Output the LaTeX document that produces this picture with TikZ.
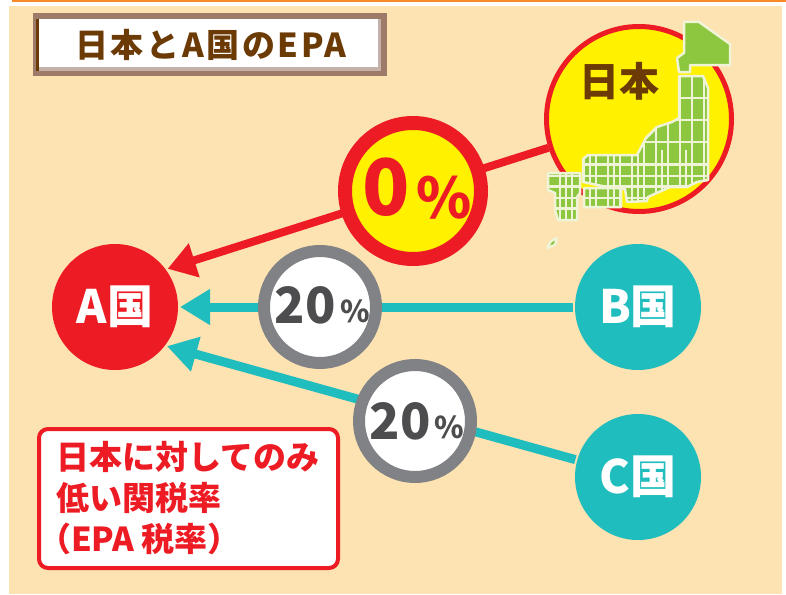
\documentclass[tikz,border=0pt]{standalone}
\usepackage{fontspec}
\newfontfamily\jp{Noto Sans CJK JP}
\newfontfamily\jpwide{Noto Sans CJK JP}[LetterSpace=8]
\usetikzlibrary{arrows.meta}
\definecolor{peach}{HTML}{FDE2B2}
\definecolor{myred}{HTML}{ED1C24}
\definecolor{myteal}{HTML}{20BDBE}
\definecolor{ringgray}{HTML}{808285}
\definecolor{txtgray}{HTML}{4D4D4F}
\definecolor{myyellow}{HTML}{FFF100}
\definecolor{mapgreen}{HTML}{8DC63F}
\definecolor{mappale}{HTML}{EEF4D5}
\definecolor{mybrown}{HTML}{6B3A05}
\definecolor{orangeline}{HTML}{F7892B}
\definecolor{frameouter}{HTML}{9E7B69}
\definecolor{frameshadow}{HTML}{C4B2AA}
\pgfdeclarelayer{back}
\pgfdeclarelayer{lines}
\pgfsetlayers{back,lines,main}
\tikzset{
  country/.style={circle, minimum size=126pt, inner sep=0pt, outer sep=2pt, text=white,
    font=\jp\bfseries\fontsize{46}{46}\selectfont},
  ratering/.style={circle, draw=ringgray, line width=12pt, fill=white, minimum size=112pt, inner sep=0pt},
  redarr/.style={draw=myred, line width=8pt, -{Triangle[length=28pt,width=34pt]}},
  tealarr/.style={draw=myteal, line width=9pt, -{Triangle[length=30pt,width=34pt]}},
  bigtxt/.style={inner sep=0pt, font=\jp\bfseries\fontsize{#1}{#1}\selectfont},
  mapfill/.style={fill=mapgreen, draw=mappale, line width=2.5pt, line join=round},
  gridline/.style={mappale, line width=2pt},
}
\begin{document}
\begin{tikzpicture}[x=1pt,y=-1pt]
\useasboundingbox (0,0) rectangle (786,594);
\begin{pgfonlayer}{back}
  \fill[white] (0,0) rectangle (786,594);
  \fill[peach] (9,6) rectangle (782,594);
  \fill[orangeline] (12,0) rectangle (786,2.2);
  % title frame
  \fill[frameouter] (33,13) rectangle (387,76);
  \fill[frameshadow] (36,19) rectangle (381,71);
  \fill[white] (37,19) rectangle (378,67);
  \draw[mybrown, line width=3pt] (37.5,19) -- (37.5,71);
\end{pgfonlayer}

\node[inner sep=0pt, text=mybrown, font=\jpwide\bfseries\fontsize{33}{33}\selectfont] (title) at (211,45) {日本とA国のEPA};

% main circles
\node[country, fill=myred] (A) at (115,307) {A国};
\node[country, fill=myteal] (B) at (638,307) {B国};
\node[country, fill=myteal] (C) at (638,477) {C国};
\node[circle, draw=myred, line width=5pt, fill=myyellow, minimum size=185pt, inner sep=0pt] (jp) at (639,119) {};

% Japan map
\filldraw[mapfill]
  (684,22)--(699,22)--(730,44)--(730,65)--(690,65)--(690,72)--(679,72)--(677,58)--(684,53)--cycle
  (679,76)--(703,76)--(708,88)--(708,180)--(697,182)--(687,187)--(670,187)--(648,197)--(647,201)--(627,202)--(625,189)--(607,187)--(583,182)--(583,159)--(588,155)--(637,155)--(646,138)--(657,127)--(672,122)--(679,118)--cycle
  (584,188)--(621,188)--(621,207)--(584,207)--cycle
  (548,173)--(580,173)--(580,193)--(577,197)--(577,220)--(558,220)--(555,210)--(555,193)--(548,190)--cycle
  (547,248)--(551,241)--(557,238)--(555,245)--cycle;
\begin{scope}
  \clip
  (679,76)--(703,76)--(708,88)--(708,180)--(697,182)--(687,187)--(670,187)--(648,197)--(647,201)--(627,202)--(625,189)--(607,187)--(583,182)--(583,159)--(588,155)--(637,155)--(646,138)--(657,127)--(672,122)--(679,118)--cycle
  (584,188)--(621,188)--(621,207)--(584,207)--cycle
  (548,173)--(580,173)--(580,193)--(577,197)--(577,220)--(558,220)--(555,210)--(555,193)--(548,190)--cycle;
  \foreach \x in {560,572,...,735} \draw[gridline] (\x,70) -- (\x,250);
  \foreach \x in {566,590,...,710} \draw[gridline] (\x,150) -- (\x,250);
  \foreach \y in {98,120,...,250} \draw[gridline] (540,\y) -- (740,\y);
  \foreach \y in {165,176,...,215} \draw[gridline] (540,\y) -- (740,\y);
\end{scope}
\node[bigtxt=40, text=mybrown] (jptext) at (619,81) {日本};

% rate circles
\node[circle, draw=myred, line width=14pt, fill=myyellow, minimum size=136pt, inner sep=0pt] (z0) at (413,191) {};
\node[bigtxt=78, text=myred] (z0num) at (386,187) {0};
\node[bigtxt=56, text=myred] (z0pct) at (444,198) {\%};

\node[ratering] (rB) at (320,307) {};
\node[bigtxt=50, text=txtgray] (rBnum) at (305,305) {20};
\node[bigtxt=30, text=txtgray] (rBpct) at (355,311) {\%};

\node[ratering] (rC) at (415,421) {};
\node[bigtxt=50, text=txtgray] (rCnum) at (400,421) {20};
\node[bigtxt=30, text=txtgray] (rCpct) at (449,427) {\%};

% connectors
\begin{pgfonlayer}{lines}
  \draw[redarr] (jp) -- (A.36);
  \draw[tealarr] (B) -- (A.0);
  \draw[tealarr] (C) -- (A.-37);
\end{pgfonlayer}

% note box
\node[draw=myred, line width=4pt, fill=white, rounded corners=9pt, minimum width=299pt, minimum height=139pt, inner sep=0pt, anchor=north west] (note) at (37,427) {};
\node[anchor=north west, align=left, inner sep=0pt, text=myred,
  font=\jp\bfseries\fontsize{33}{41}\selectfont] (notetext) at (56,441) {日本に対してのみ\\低い関税率\\\hspace*{-0.55em}（EPA 税率）};
\end{tikzpicture}
\end{document}
